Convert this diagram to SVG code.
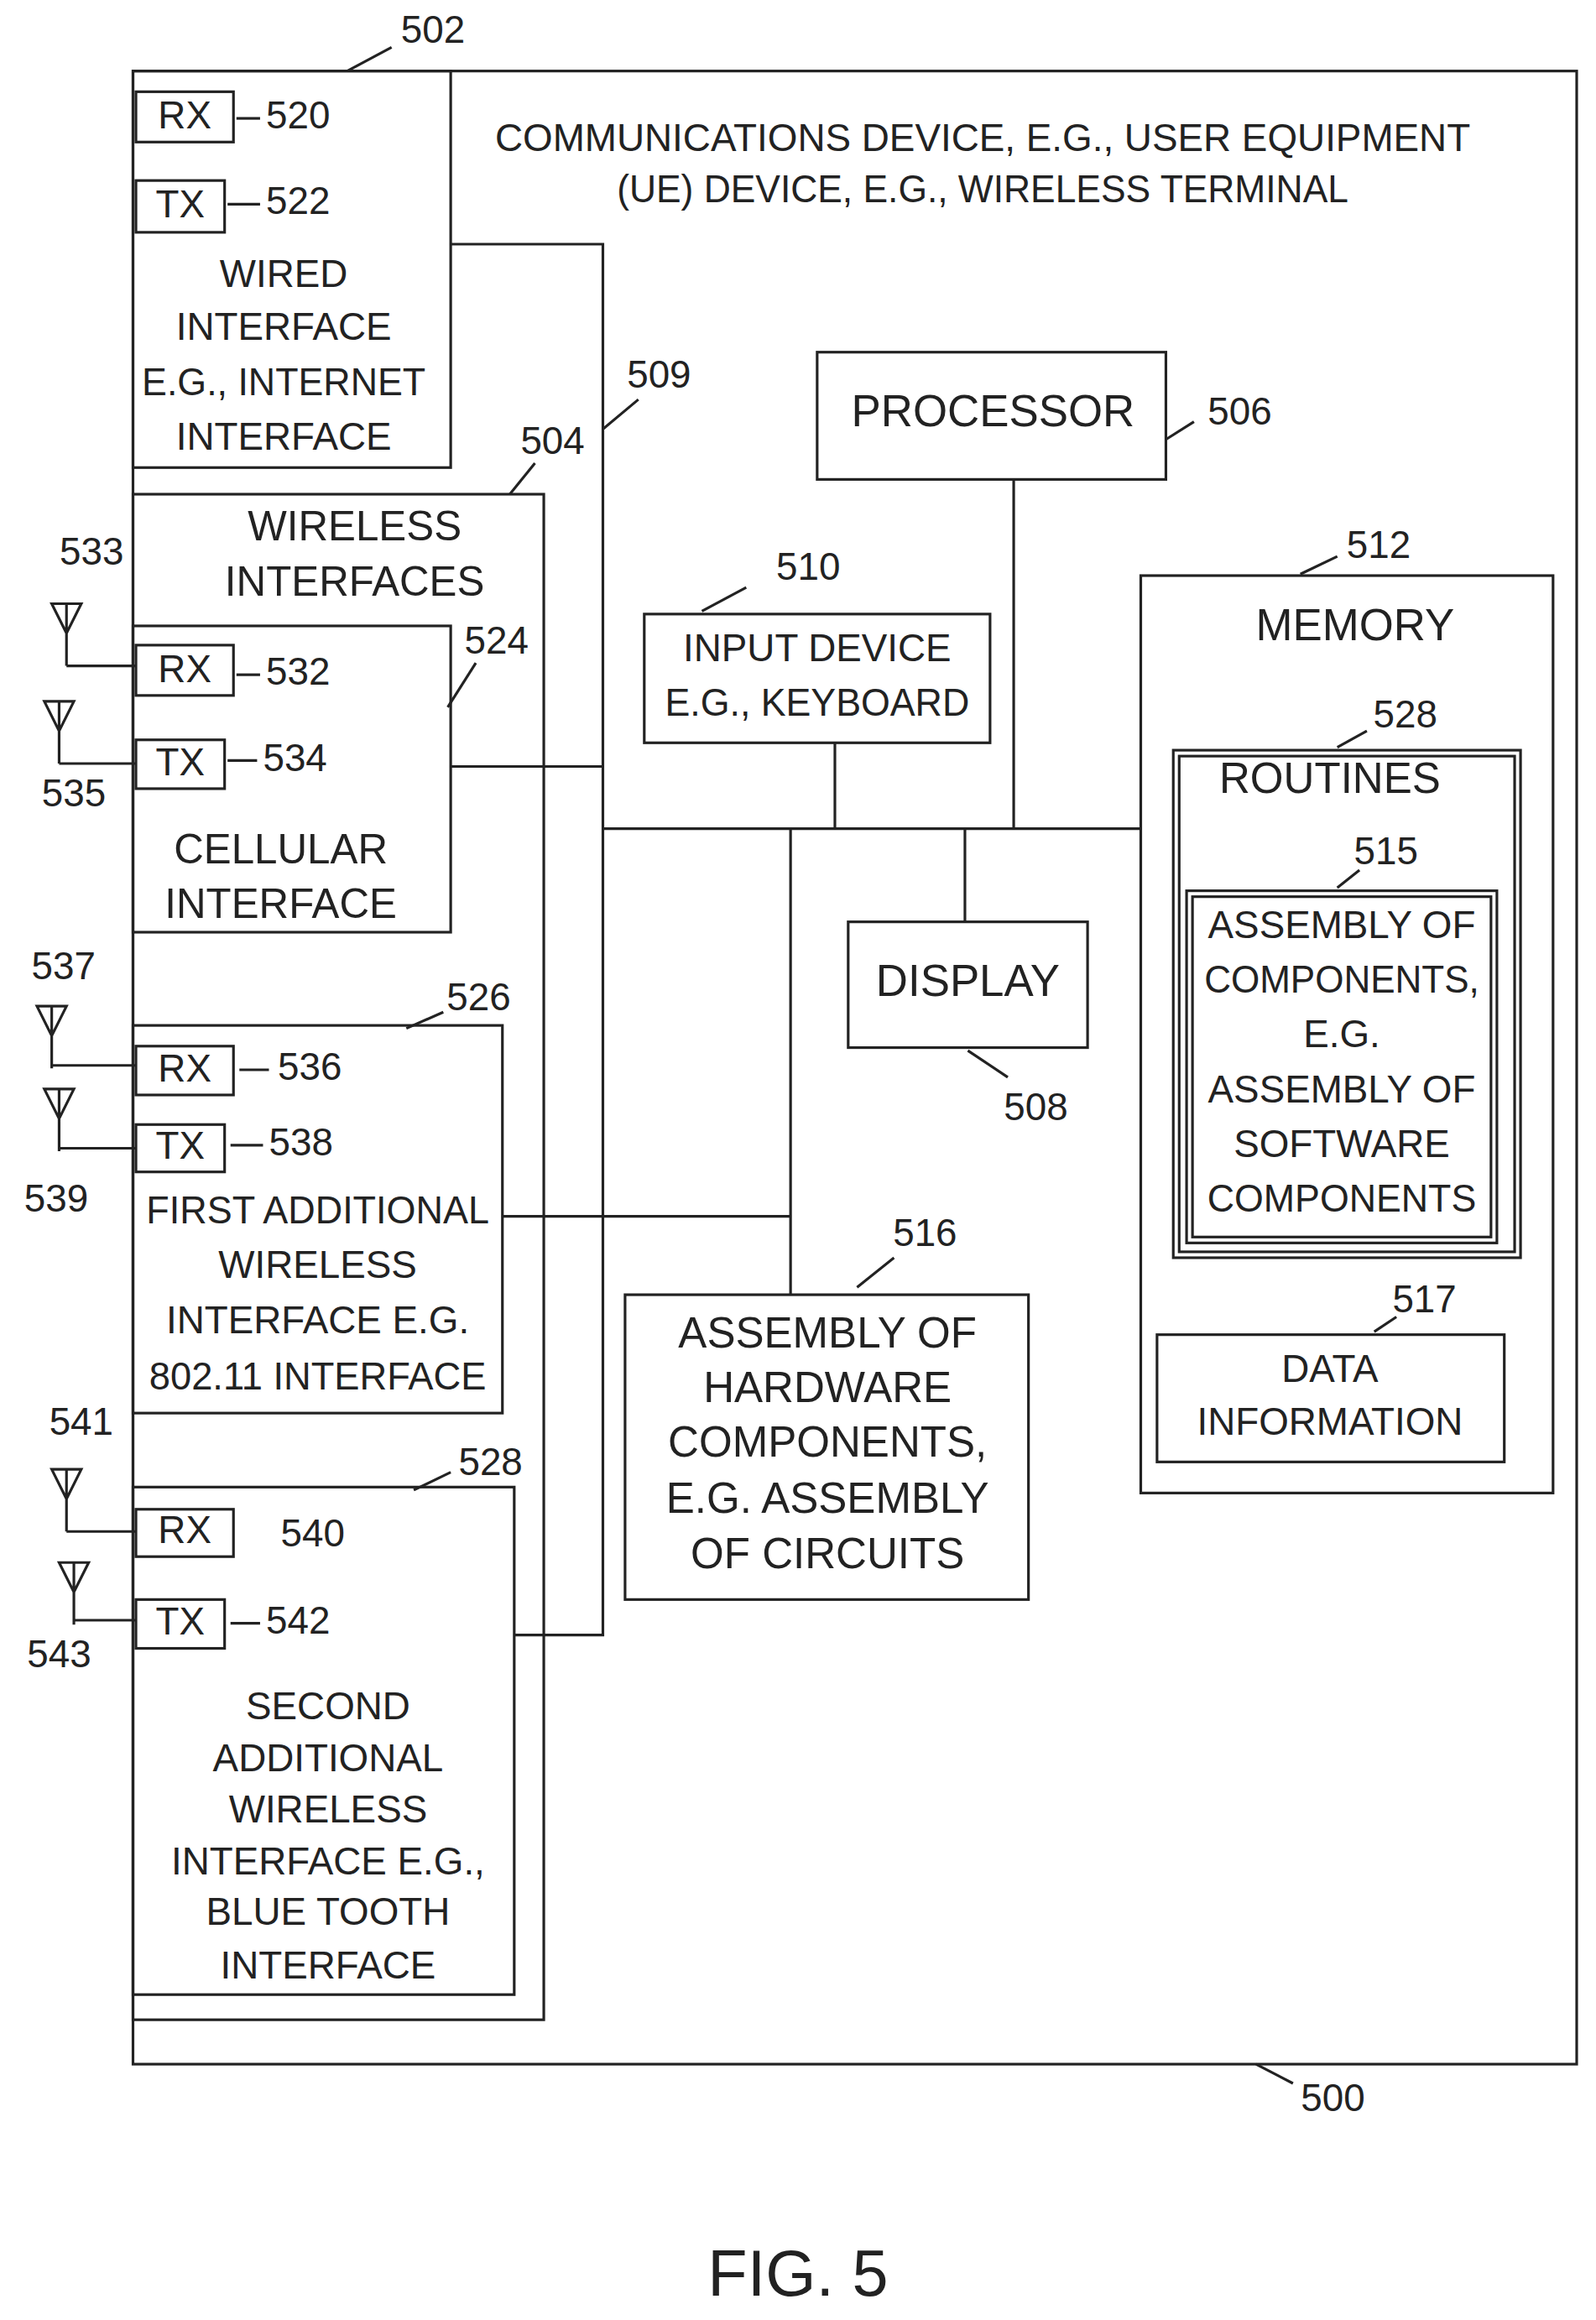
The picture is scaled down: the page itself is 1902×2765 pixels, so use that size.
<svg xmlns="http://www.w3.org/2000/svg" width="1902" height="2765" viewBox="0 0 1902 2765">
<style>
rect{fill:none;stroke:#222;stroke-width:1.8}
.l{fill:none;stroke:#222;stroke-width:1.8}
text{font-family:"Liberation Sans",Arial,sans-serif;font-size:26px;fill:#222;text-anchor:middle;dominant-baseline:middle}
.n{font-size:26px}
.s{text-anchor:start}
</style>
<rect x="0" y="0" width="1902" height="2765" style="fill:#fff;stroke:none"/>
<g transform="scale(1.761,1.7635)">
<defs><path id="ant" class="l" d="M-10,0 L10,0 L0,20 Z M0,0 V42"/></defs>
<g id="n500"><rect x="90" y="48" width="977" height="1347"/>
<text x="665" y="95" textLength="660" lengthAdjust="spacingAndGlyphs">COMMUNICATIONS DEVICE, E.G., USER EQUIPMENT</text>
<text x="665" y="130" textLength="495" lengthAdjust="spacingAndGlyphs">(UE) DEVICE, E.G., WIRELESS TERMINAL</text>
<path class="l" d="M850,1395 L875,1408"/><text class="n" x="902" y="1420">500</text></g>
<g id="n502"><rect x="90" y="48" width="215" height="268"/>
<path class="l" d="M235,48 L265,32"/><text class="n" x="293" y="22">502</text>
<rect x="92" y="62" width="66" height="34"/><text x="125" y="80">RX</text><path class="l" d="M160,80 H176"/><text class="n s" x="180" y="80">520</text>
<rect x="92" y="122" width="60" height="35"/><text x="122" y="140">TX</text><path class="l" d="M154,138 H176"/><text class="n s" x="180" y="138">522</text>
<text x="192" y="187">WIRED</text><text x="192" y="223">INTERFACE</text><text x="192" y="260" textLength="192" lengthAdjust="spacingAndGlyphs">E.G., INTERNET</text><text x="192" y="297">INTERFACE</text></g>
<g id="n504"><rect x="90" y="334" width="278" height="1031"/>
<path class="l" d="M345,334 L362,313"/><text class="n" x="374" y="300">504</text>
<text x="240" y="358" style="font-size:28px">WIRELESS</text><text x="240" y="395" style="font-size:28px">INTERFACES</text></g>
<g id="n524"><rect x="90" y="423" width="215" height="207"/>
<path class="l" d="M303,478 L322,448"/><text class="n" x="336" y="435">524</text>
<rect x="92" y="436" width="66" height="34"/><text x="125" y="454">RX</text><path class="l" d="M160,456 H176"/><text class="n s" x="180" y="456">532</text>
<rect x="92" y="500" width="60" height="33"/><text x="122" y="517">TX</text><path class="l" d="M154,514 H174"/><text class="n s" x="178" y="514">534</text>
<text x="190" y="576" style="font-size:28px">CELLULAR</text><text x="190" y="613" style="font-size:28px">INTERFACE</text>
<use href="#ant" x="45" y="408"/><path class="l" d="M45,450 H92"/><text class="n" x="62" y="375">533</text>
<use href="#ant" x="40" y="474"/><path class="l" d="M40,516 H92"/><text class="n" x="50" y="538">535</text></g>
<g id="n526"><rect x="90" y="693" width="250" height="262"/>
<path class="l" d="M275,695 L300,684"/><text class="n" x="324" y="676">526</text>
<rect x="92" y="707" width="66" height="33"/><text x="125" y="724">RX</text><path class="l" d="M162,723 H182"/><text class="n s" x="188" y="723">536</text>
<rect x="92" y="760" width="60" height="32"/><text x="122" y="776">TX</text><path class="l" d="M156,774 H178"/><text class="n s" x="182" y="774">538</text>
<text x="215" y="820" textLength="232" lengthAdjust="spacingAndGlyphs">FIRST ADDITIONAL</text><text x="215" y="857">WIRELESS</text><text x="215" y="894">INTERFACE E.G.</text><text x="215" y="932" textLength="228" lengthAdjust="spacingAndGlyphs">802.11 INTERFACE</text>
<use href="#ant" x="35" y="680"/><path class="l" d="M35,720 H92"/><text class="n" x="43" y="655">537</text>
<use href="#ant" x="40" y="736"/><path class="l" d="M40,776 H92"/><text class="n" x="38" y="812">539</text></g>
<g id="n528b"><rect x="90" y="1005" width="258" height="343"/>
<path class="l" d="M280,1007 L305,995"/><text class="n" x="332" y="990">528</text>
<rect x="92" y="1020" width="66" height="32"/><text x="125" y="1036">RX</text><text class="n s" x="190" y="1038">540</text>
<rect x="92" y="1081" width="60" height="33"/><text x="122" y="1098">TX</text><path class="l" d="M156,1097 H176"/><text class="n s" x="180" y="1097">542</text>
<text x="222" y="1155">SECOND</text><text x="222" y="1190">ADDITIONAL</text><text x="222" y="1225">WIRELESS</text><text x="222" y="1260">INTERFACE E.G.,</text><text x="222" y="1294">BLUE TOOTH</text><text x="222" y="1330">INTERFACE</text>
<use href="#ant" x="45" y="993"/><path class="l" d="M45,1035 H92"/><text class="n" x="55" y="963">541</text>
<use href="#ant" x="50" y="1056"/><path class="l" d="M50,1095 H92"/><text class="n" x="40" y="1120">543</text></g>
<g id="connectors">
<path class="l" d="M305,165 H408 V1105 H348 M305,518 H408 M408,560 H772 M340,822 H535 M535,560 V875 M565,502 V560 M686,324 V560 M653,560 V623 M408,290 L432,270"/>
<text class="n" x="446" y="255">509</text></g>
<g id="n506"><rect x="553" y="238" width="236" height="86"/><text x="672" y="280" style="font-size:30px">PROCESSOR</text>
<path class="l" d="M789,297 L808,285"/><text class="n" x="839" y="280">506</text></g>
<g id="n510"><rect x="436" y="415" width="234" height="87"/><text x="553" y="440">INPUT DEVICE</text><text x="553" y="477" textLength="206" lengthAdjust="spacingAndGlyphs">E.G., KEYBOARD</text>
<path class="l" d="M475,413 L505,397"/><text class="n" x="547" y="385">510</text></g>
<g id="n508"><rect x="574" y="623" width="162" height="85"/><text x="655" y="665" style="font-size:30px">DISPLAY</text>
<path class="l" d="M655,710 L682,728"/><text class="n" x="701" y="750">508</text></g>
<g id="n516"><rect x="423" y="875" width="273" height="206"/>
<text x="560" y="903" style="font-size:29px">ASSEMBLY OF</text><text x="560" y="940" style="font-size:29px">HARDWARE</text><text x="560" y="977" style="font-size:29px">COMPONENTS,</text><text x="560" y="1015" style="font-size:29px">E.G. ASSEMBLY</text><text x="560" y="1052" style="font-size:29px">OF CIRCUITS</text>
<path class="l" d="M580,870 L605,850"/><text class="n" x="626" y="835">516</text></g>
<g id="n512"><rect x="772" y="389" width="279" height="620"/><text x="917" y="425" style="font-size:30px">MEMORY</text>
<path class="l" d="M880,388 L905,376"/><text class="n" x="933" y="370">512</text></g>
<g id="n528"><rect x="794" y="507" width="235" height="343"/><rect x="798" y="511" width="227" height="335"/>
<text x="900" y="528" style="font-size:29px">ROUTINES</text>
<path class="l" d="M905,505 L925,494"/><text class="n" x="951" y="485">528</text></g>
<g id="n515"><rect x="803" y="602" width="210" height="238"/><rect x="807" y="606" width="202" height="230"/>
<path class="l" d="M905,600 L920,588"/><text class="n" x="938" y="577">515</text>
<text x="908" y="627">ASSEMBLY OF</text><text x="908" y="664" textLength="186" lengthAdjust="spacingAndGlyphs">COMPONENTS,</text><text x="908" y="701">E.G.</text><text x="908" y="738">ASSEMBLY OF</text><text x="908" y="775">SOFTWARE</text><text x="908" y="812" textLength="182" lengthAdjust="spacingAndGlyphs">COMPONENTS</text></g>
<g id="n517"><rect x="783" y="902" width="235" height="86"/><text x="900" y="927">DATA</text><text x="900" y="963">INFORMATION</text>
<path class="l" d="M930,900 L945,890"/><text class="n" x="964" y="880">517</text></g>
<text x="540" y="1540" style="font-size:44px">FIG. 5</text>
</g>
</svg>
